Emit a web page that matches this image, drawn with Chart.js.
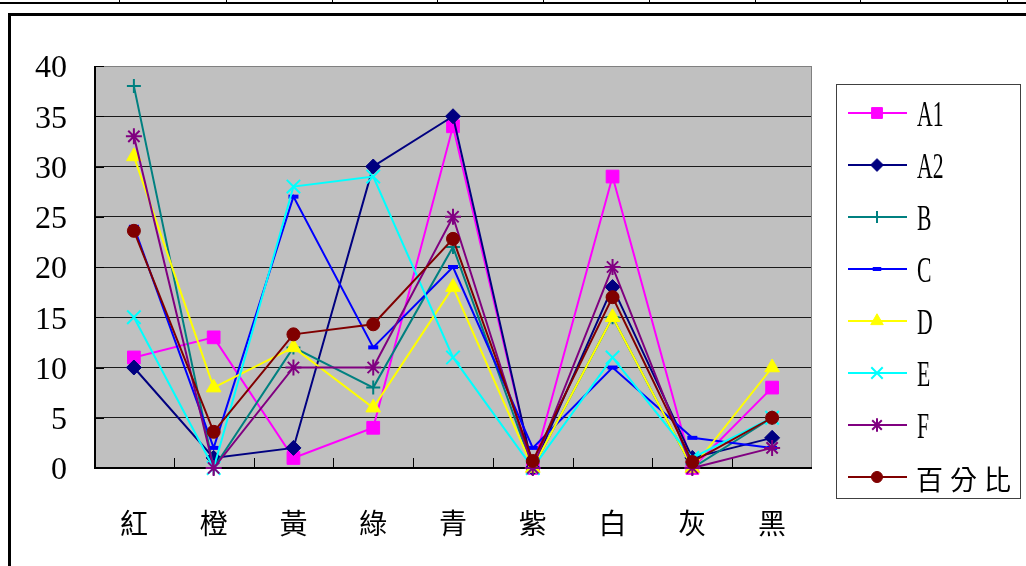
<!DOCTYPE html>
<html>
<head>
<meta charset="utf-8">
<script src="https://cdn.jsdelivr.net/npm/chart.js@4/dist/chart.umd.min.js"></script>
<style>
  html, body { margin: 0; padding: 0; background: #fff; }
  #page { position: relative; width: 1026px; height: 566px; overflow: hidden; }
  .rowline { position: absolute; left: 0; top: 2px; width: 1026px; height: 2px; background: #000; }
  .colline { position: absolute; top: 0; width: 1px; height: 3px; background: #000; }
  #frame { position: absolute; left: 8px; top: 13px; width: 1100px; height: 700px;
           border-left: 3px solid #000; border-top: 3px solid #000; }
  #wrap { position: absolute; left: 0; top: 0; width: 1026px; height: 566px; }
</style>
</head>
<body>
<div id="page">
  <div class="rowline"></div>
  <div class="colline" style="left:119px"></div>
  <div class="colline" style="left:226px"></div>
  <div class="colline" style="left:332px"></div>
  <div class="colline" style="left:437px"></div>
  <div class="colline" style="left:543px"></div>
  <div class="colline" style="left:649px"></div>
  <div class="colline" style="left:755px"></div>
  <div class="colline" style="left:860px"></div>
  <div class="colline" style="left:1007px"></div>
  <div id="frame"></div>
  <div id="wrap"><canvas id="c" width="1026" height="566"></canvas></div>
</div>
<script>
// Colour names along the x axis
const categories = ['紅', '橙', '黃', '綠', '青', '紫', '白', '灰', '黑'];

// Counts per group
const seriesA1 = [11, 13, 1, 4, 34, 0, 29, 0, 8];
const seriesA2 = [10, 1, 2, 30, 35, 0, 18, 1, 3];
const seriesB  = [38, 0, 12, 8, 22, 0, 15, 0, 5];
const seriesC  = [24, 2, 27, 12, 20, 2, 10, 3, 2];
const seriesD  = [31, 8, 12, 6, 18, 0, 15, 0, 10];
const seriesE  = [15, 0, 28, 29, 11, 0, 11, 1, 5];
const seriesF  = [33, 0, 10, 10, 25, 0, 20, 0, 2];
const seriesPct = [23.6, 3.6, 13.3, 14.3, 22.8, 0.7, 17, 0.6, 5];

const seriesNames = ['A1', 'A2', 'B', 'C', 'D', 'E', 'F', '百分比'];

// y axis: 0..40 every 5
const yMin = 0, yMax = 40, yStep = 5;

const styles = [
  { color: '#FF00FF', pointStyle: 'rect',     radius: 9,   pbw: 1 },
  { color: '#000080', pointStyle: 'rectRot',  radius: 7.5, pbw: 1 },
  { color: '#008080', pointStyle: 'cross',    radius: 7,   pbw: 2 },
  { color: '#0000FF', pointStyle: 'line',     radius: 5,   pbw: 4 },
  { color: '#FFFF00', pointStyle: 'triangle', radius: 8.5, pbw: 1 },
  { color: '#00FFFF', pointStyle: 'crossRot', radius: 9.5, pbw: 2 },
  { color: '#800080', pointStyle: 'star',     radius: 8,   pbw: 2 },
  { color: '#800000', pointStyle: 'circle',   radius: 6.5, pbw: 1 }
];
const allSeries = [seriesA1, seriesA2, seriesB, seriesC, seriesD, seriesE, seriesF, seriesPct];

// later series are painted over earlier ones
const datasets = allSeries.map((vals, i) => ({
  label: seriesNames[i],
  data: vals,
  order: allSeries.length - i,
  borderColor: styles[i].color,
  backgroundColor: styles[i].color,
  pointBackgroundColor: styles[i].color,
  pointBorderColor: styles[i].color,
  pointStyle: styles[i].pointStyle,
  pointRadius: styles[i].radius,
  pointBorderWidth: styles[i].pbw,
  borderWidth: 2,
  tension: 0,
  fill: false,
  clip: false
}));

// Grey plot background, plot border and inward tick marks
const plotFrame = {
  id: 'plotFrame',
  beforeDraw(chart) {
    const a = chart.chartArea, ctx = chart.ctx;
    ctx.save();
    ctx.fillStyle = '#C0C0C0';
    ctx.fillRect(a.left, a.top, a.right - a.left, a.bottom - a.top);
    ctx.restore();
  },
  beforeDatasetsDraw(chart) {
    const a = chart.chartArea, ctx = chart.ctx;
    const xs = chart.scales.x, ys = chart.scales.y;
    ctx.save();
    ctx.lineWidth = 1;
    ctx.strokeStyle = '#808080';
    ctx.beginPath();
    ctx.moveTo(a.left, a.top + 0.5); ctx.lineTo(a.right - 0.5, a.top + 0.5);
    ctx.lineTo(a.right - 0.5, a.bottom);
    ctx.stroke();
    ctx.strokeStyle = '#000';
    ctx.lineWidth = 2;
    ctx.beginPath();
    ctx.moveTo(a.left + 1, a.top); ctx.lineTo(a.left + 1, a.bottom);
    ctx.moveTo(a.left, a.bottom); ctx.lineTo(a.right, a.bottom);
    ctx.stroke();
    ctx.lineWidth = 1;
    ctx.beginPath();
    // category boundary ticks pointing up into the plot
    const n = categories.length;
    for (let i = 1; i < n; i++) {
      const x = Math.round((xs.getPixelForValue(i - 1) + xs.getPixelForValue(i)) / 2) + 0.5;
      ctx.moveTo(x, a.bottom); ctx.lineTo(x, a.bottom - 10);
    }
    // value ticks pointing right into the plot
    for (let v = yMin; v <= yMax; v += yStep) {
      const y = Math.round(ys.getPixelForValue(v)) + 0.5;
      ctx.moveTo(a.left, y); ctx.lineTo(a.left + 10, y);
    }
    ctx.stroke();
    ctx.restore();
  }
};

// Boxed legend with a line sample and marker per series
const boxLegend = {
  id: 'boxLegend',
  afterDraw(chart) {
    const ctx = chart.ctx;
    const H = Chart.helpers;
    const bx = 836, by = 84, bw = 184, bh = 414;
    ctx.save();
    ctx.strokeStyle = '#404040';
    ctx.lineWidth = 1;
    ctx.strokeRect(bx + 0.5, by + 0.5, bw, bh);
    const items = chart.data.datasets;
    items.forEach((ds, i) => {
      const y = 113 + i * 52;
      ctx.strokeStyle = ds.borderColor;
      ctx.lineWidth = 2;
      ctx.beginPath();
      ctx.moveTo(848, y); ctx.lineTo(907, y);
      ctx.stroke();
      ctx.fillStyle = ds.pointBackgroundColor;
      ctx.strokeStyle = ds.pointBorderColor;
      ctx.lineWidth = ds.pointBorderWidth;
      H.drawPoint(ctx, {
        pointStyle: ds.pointStyle,
        rotation: 0,
        radius: ds.pointRadius * 0.85,
        borderWidth: ds.pointBorderWidth
      }, 877, y);
      ctx.fillStyle = '#000';
      ctx.textBaseline = 'middle';
      ctx.textAlign = 'left';
      const label = ds.label;
      if (/^[A-Za-z0-9]+$/.test(label)) {
        ctx.save();
        ctx.translate(917, y + 4);
        ctx.scale(0.62, 1);
        ctx.font = '35px "Liberation Serif", "DejaVu Serif", serif';
        ctx.fillText(label, 0, 0);
        ctx.restore();
      } else {
        ctx.font = '27px "Noto Sans CJK TC", "Noto Sans CJK SC", sans-serif';
        [...label].forEach((ch, k) => ctx.fillText(ch, 916 + k * 34, y + 3));
      }
    });
    ctx.restore();
  }
};

new Chart(document.getElementById('c'), {
  type: 'line',
  data: { labels: categories, datasets },
  plugins: [plotFrame, boxLegend],
  options: {
    responsive: false,
    animation: false,
    events: [],
    layout: { padding: { top: 66, right: 214, left: 0, bottom: 0 } },
    plugins: { legend: { display: false }, tooltip: { enabled: false } },
    scales: {
      x: {
        offset: true,
        grid: { display: false, drawTicks: false },
        border: { display: false },
        ticks: {
          color: '#000',
          padding: 39,
          maxRotation: 0,
          autoSkip: false,
          font: { family: '"Noto Sans CJK TC", "Noto Sans CJK SC", sans-serif', size: 28 }
        },
        afterFit(s) { s.height = 98; }
      },
      y: {
        min: yMin,
        max: yMax,
        grid: {
          drawTicks: false,
          color: (c) => (c.tick && c.tick.value === yMax) ? '#808080' : '#1a1a1a',
          lineWidth: 1
        },
        border: { display: false },
        ticks: {
          stepSize: yStep,
          color: '#000',
          padding: 27,
          labelOffset: 3,
          font: { family: '"Liberation Serif", "DejaVu Serif", serif', size: 32 }
        },
        afterFit(s) { s.width = 94; }
      }
    }
  }
});
</script>
</body>
</html>
